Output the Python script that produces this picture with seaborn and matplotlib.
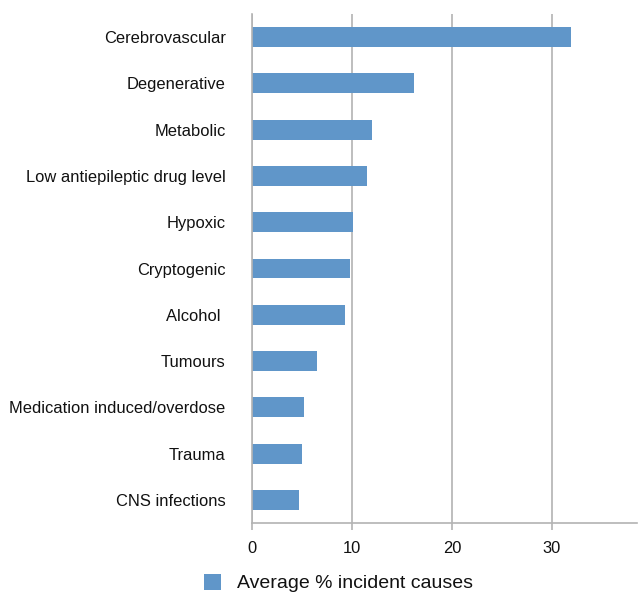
import numpy as np
import pandas as pd
import seaborn as sns
import matplotlib
matplotlib.use("Agg")
from matplotlib import pyplot as plt

# data
causes = ["Cerebrovascular", "Degenerative", "Metabolic", "Low antiepileptic drug level",
          "Hypoxic", "Cryptogenic", "Alcohol ", "Tumours", "Medication induced/overdose",
          "Trauma", "CNS infections"]
percent = [31.9, 16.2, 12.0, 11.5, 10.1, 9.8, 9.3, 6.5, 5.2, 5.0, 4.7]
series_name = "Average % incident causes"
xticks = [0, 10, 20, 30]

df = pd.DataFrame({"cause": causes, "pct": percent})

sns.set_style("white")
plt.rcParams['font.family'] = ['Liberation Sans', 'DejaVu Sans']

grey = "#b3b3b3"
fig = plt.figure(figsize=(6.38, 5.95), dpi=100)
ax = fig.add_axes([252 / 638, 72 / 595, 385 / 638, 509 / 595])

sns.barplot(data=df, y="cause", x="pct", orient="h", color="#6096c9",
            width=0.43, saturation=1, linewidth=0, label=series_name, ax=ax)
if ax.get_legend() is not None:
    ax.get_legend().remove()

ax.set_xlim(0, 38.5)
ax.set_ylim(len(causes) - 0.5, -0.5)
ax.set_xticks(xticks)
ax.set_xlabel(None)
ax.set_ylabel(None)
ax.grid(True, axis="x", color=grey, linewidth=1.2)
ax.set_axisbelow(True)

for s in ["top", "right"]:
    ax.spines[s].set_visible(False)
for s in ["left", "bottom"]:
    ax.spines[s].set_color(grey)
    ax.spines[s].set_linewidth(1.2)

# category boundary ticks on the y axis
ax.set_yticks(np.arange(-0.5, len(causes), 1.0), minor=True)
ax.tick_params(axis="y", which="major", length=0, pad=19, labelsize=11.9, labelcolor="#111111")
ax.tick_params(axis="y", which="minor", length=5, width=1.2, color=grey, direction="out")
ax.tick_params(axis="x", which="major", length=5, width=1.2, color=grey, pad=8,
               labelsize=11.9, labelcolor="#111111", bottom=True)

handles, labels = ax.get_legend_handles_labels()
fig.legend(handles, labels, loc="center", bbox_to_anchor=(0.53, 0.02), frameon=False,
           fontsize=14, handlelength=0.9, handleheight=0.9, handletextpad=0.8,
           labelcolor="#111111")

plt.savefig("out.png", dpi=100)
